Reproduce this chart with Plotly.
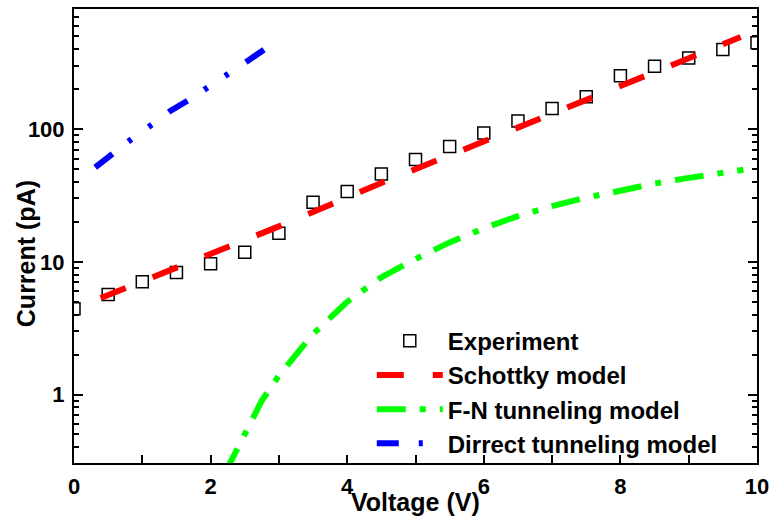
import plotly.graph_objects as go

# ---- data ----
exp_v = [0, 0.5, 1, 1.5, 2, 2.5, 3, 3.5, 4, 4.5, 5, 5.5, 6, 6.5, 7, 7.5, 8, 8.5, 9, 9.5, 10]
exp_i = [4.43, 5.68, 7.08, 8.31, 9.66, 11.8, 16.4, 28.1, 33.8, 45.9, 59.0, 73.9, 93.3,
         115, 143, 175, 252, 298, 344, 398, 448]

sch_v = [0.39, 1.5, 3.0, 4.5, 6.0, 7.5, 9.0, 9.76]
sch_i = [5.33, 8.95, 18.5, 39.3, 79.8, 166, 342, 494]

fn_v = [2.2, 2.5, 2.75, 3.0, 3.5, 4.0, 4.5, 5.0, 5.5, 6.0, 6.5, 7.0, 7.5, 8.0, 8.5, 9.0, 9.5, 9.8]
fn_i = [0.25, 0.51, 0.90, 1.39, 2.86, 5.0, 7.65, 10.5, 14.0, 17.9, 22.1, 26.3, 30.5, 34.3,
        38.9, 42.9, 47.3, 49.4]

dt_v = [0.31, 0.6, 0.86, 1.15, 1.41, 1.7, 1.96, 2.25, 2.52, 2.81]
dt_i = [51.4, 67.9, 85.5, 109, 137, 168, 205, 259, 321, 406]

names = ["Experiment", "Schottky model", "F-N tunneling model", "Dirrect tunneling model"]

FONT = "Arial, Liberation Sans, sans-serif"

fig = go.Figure()
fig.add_trace(go.Scatter(x=exp_v, y=exp_i, mode="markers", name=names[0],
                         marker=dict(symbol="square-open", size=12, color="black",
                                     line=dict(width=1.5, color="black"))))
fig.add_trace(go.Scatter(x=sch_v, y=sch_i, mode="lines", name=names[1],
                         line=dict(color="#ff0000", width=6, dash="27px,29px")))
fig.add_trace(go.Scatter(x=fn_v, y=fn_i, mode="lines", name=names[2],
                         line=dict(color="#00ff00", width=6, dash="29px,14px,6px,14px")))
fig.add_trace(go.Scatter(x=dt_v, y=dt_i, mode="lines", name=names[3],
                         line=dict(color="#0000ff", width=6, dash="22px,20px,4px,21px,4px,21px")))

fig.update_layout(
    width=776, height=522,
    margin=dict(l=74, r=16, t=7, b=59),
    paper_bgcolor="white", plot_bgcolor="white",
    font=dict(family=FONT, size=22, color="black", weight="bold"),
    showlegend=True,
    legend=dict(x=0.436, y=0.318, xanchor="left", yanchor="top",
                bgcolor="rgba(0,0,0,0)", itemwidth=66,
                font=dict(family=FONT, size=24, color="black", weight="bold"),
                tracegroupgap=0),
    annotations=[
        dict(text="Current (pA)", xref="paper", yref="paper", x=-0.07, y=0.5,
             xanchor="center", yanchor="middle", textangle=-90, showarrow=False,
             yshift=-18,
             font=dict(family=FONT, size=25, color="black", weight="bold")),
        dict(text="Voltage (V)", xref="paper", yref="paper", x=0.5, y=-0.0857,
             xanchor="center", yanchor="middle", showarrow=False,
             font=dict(family=FONT, size=25, color="black", weight="bold")),
    ],
)

fig.update_xaxes(range=[0, 10], showline=True, linecolor="black", linewidth=2, mirror=True,
                 ticks="inside", ticklen=8, tickwidth=1.5, tickcolor="black",
                 dtick=2, tick0=0, showgrid=False, zeroline=False,
                 ticklabelstandoff=3,
                 minor=dict(dtick=1, ticks="inside", ticklen=8, tickwidth=1.5, tickcolor="black"))

fig.update_yaxes(type="log", range=[-0.516, 2.905], showline=True, linecolor="black", linewidth=2,
                 mirror="ticks", ticks="inside", ticklen=9, tickwidth=1.5, tickcolor="black",
                 tickvals=[1, 10, 100], ticktext=["1", "10", "100"], showgrid=False,
                 zeroline=False, ticklabelstandoff=3,
                 minor=dict(ticks="inside", ticklen=5, tickwidth=1.5, tickcolor="black",
                            tickvals=[0.4, 0.5, 0.6, 0.7, 0.8, 0.9, 2, 3, 4, 5, 6, 7, 8, 9,
                                      20, 30, 40, 50, 60, 70, 80, 90, 200, 300, 400, 500,
                                      600, 700, 800]))

fig.write_html("out.html")
